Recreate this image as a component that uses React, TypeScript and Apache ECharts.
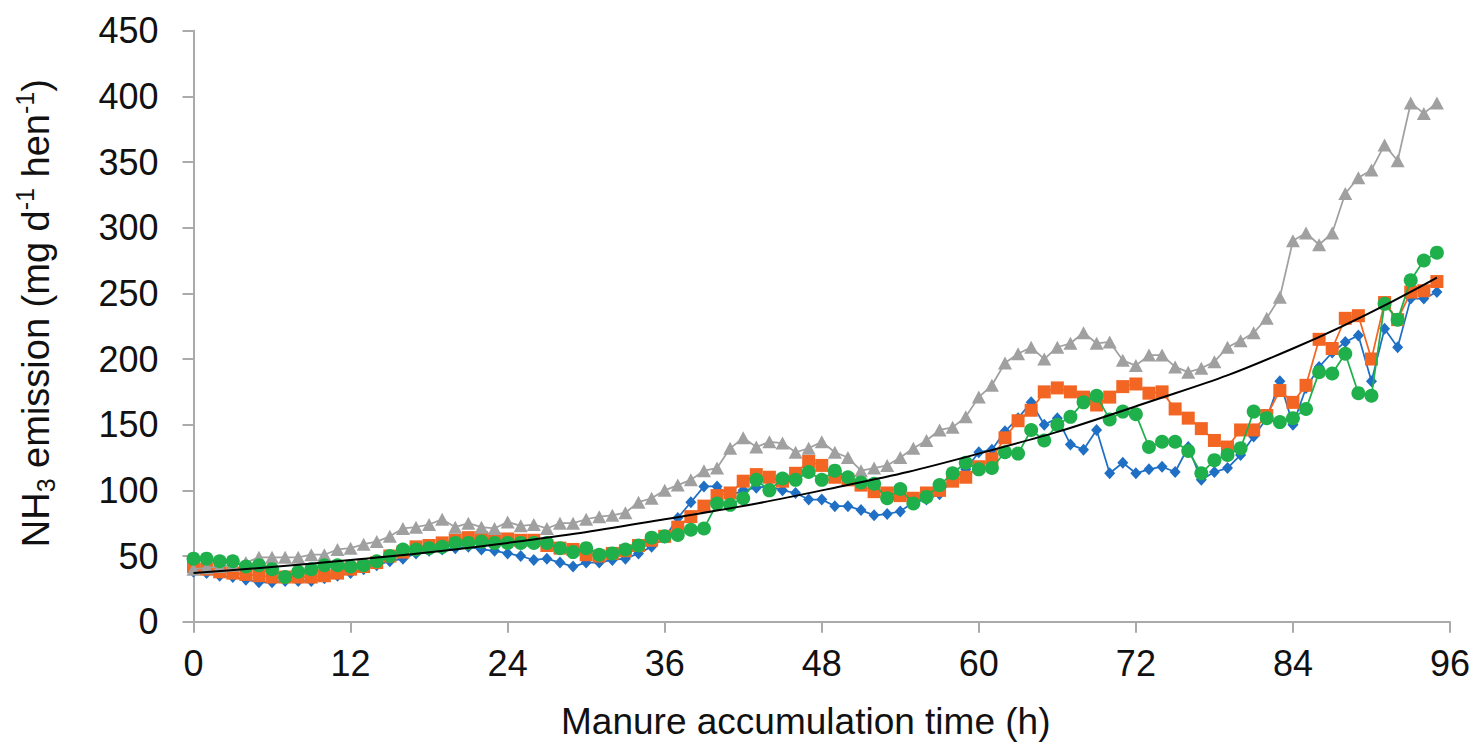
import React, { useEffect, useRef } from "react";
import * as echarts from "echarts";

// NH3 emission (mg d-1 hen-1), hourly samples 0..95 h
const BLUE = [38,37,35,34,32,30,30,31,31,31,33,35,37,
  40,43,46,48,52,54,55,56,57,55,54,52,50,
  47,48,45,42,45,45,47,48,52,57,64,79,91,
  103,103,96,100,102,103,100,98,93,93,88,88,85,
  81,82,84,91,93,97,108,116,129,131,145,155,167,
  150,155,135,131,146,113,121,113,116,118,114,133,108,
  114,117,127,141,155,183,150,178,194,205,213,218,183,223,209,246,246,251];

const ORANGE = [42,40,38,37,36,35,34,34,34,34,35,37,40,
  42,45,50,53,57,58,60,62,64,64,63,63,62,
  62,58,56,55,51,50,52,54,58,62,65,72,80,
  88,96,98,107,112,110,107,113,122,119,110,108,104,
  99,98,96,94,98,100,107,110,118,124,140,153,161,
  175,178,175,171,165,171,179,181,174,175,162,155,147,
  138,133,146,146,157,176,167,180,215,208,231,233,200,243,230,251,252,259];

const GRAY = [40,41,42,43,45,49,49,49,49,51,51,55,56,
  59,61,65,71,72,74,78,72,75,72,71,76,73,
  74,71,75,75,78,80,81,83,91,94,100,104,108,
  115,117,132,140,133,137,136,129,132,137,129,125,115,
  117,119,125,132,138,146,148,156,171,180,197,204,209,
  200,209,212,220,212,213,199,195,203,203,194,190,193,
  198,209,214,220,231,247,290,296,287,296,326,338,344,363,351,395,387,395];

const GREEN = [48,48,46,46,42,43,40,34,38,40,43,43,42,
  43,46,50,55,55,56,57,60,60,61,60,60,60,
  60,60,56,53,56,51,52,55,58,64,65,66,70,
  71,90,89,94,108,100,109,108,114,108,115,110,106,
  105,94,101,90,95,104,113,121,116,117,129,128,146,
  138,150,156,167,172,154,160,158,133,137,137,130,113,
  123,127,132,160,155,152,155,162,190,189,204,174,172,242,230,260,275,281];

// exponential trend line, read at these hours
const TREND_X = [0, 12, 24, 36, 48, 60, 72, 84, 95];
const TREND_Y = [37, 47, 60, 78, 100, 128, 164, 208, 262];

const X_TICKS = [0, 12, 24, 36, 48, 60, 72, 84, 96];
const Y_TICKS = [0, 50, 100, 150, 200, 250, 300, 350, 400, 450];

const FONT = "'Liberation Sans', Arial, sans-serif";

export default function App() {
  const ref = useRef<HTMLDivElement>(null);
  useEffect(() => {
    if (!ref.current) return;
    const chart = echarts.init(ref.current, undefined, { renderer: "svg" });
    const mk = (name: string, vals: number[], symbol: string, size: any, color: string, z: number) => ({
      type: "line",
      name,
      data: vals.map((v, i) => [i, v]),
      symbol,
      symbolSize: size,
      showSymbol: true,
      itemStyle: { color },
      lineStyle: { color, width: 1.75 },
      z,
      emphasis: { disabled: true },
    });
    const axisLine = { show: true, lineStyle: { color: "#aaaaaa", width: 2 } };
    const axisTick = { show: true, inside: false, length: 11, lineStyle: { color: "#aaaaaa", width: 2 } };
    chart.setOption({
      animation: false,
      backgroundColor: "#ffffff",
      grid: { left: 193.5, right: 26, top: 30.7, bottom: 122.3, containLabel: false, outerBoundsMode: "none" },
      xAxis: {
        type: "value",
        min: X_TICKS[0],
        max: X_TICKS[X_TICKS.length - 1],
        interval: 12,
        splitLine: { show: false },
        axisLine,
        axisTick,
        axisLabel: { color: "#111", fontSize: 36, fontFamily: FONT, margin: 24 },
        name: "Manure accumulation time (h)",
        nameLocation: "middle",
        nameGap: 81,
        nameTextStyle: { color: "#111", fontSize: 37, fontFamily: FONT, padding: [0, 32, 0, 0] },
      },
      yAxis: {
        type: "value",
        min: Y_TICKS[0],
        max: Y_TICKS[Y_TICKS.length - 1],
        interval: 50,
        splitLine: { show: false },
        axisLine,
        axisTick,
        axisLabel: { color: "#111", fontSize: 36, fontFamily: FONT, margin: 35 },
        name: "{n|NH}{sub|3}{n| emission (mg d}{sup|-1}{n| hen}{sup|-1}{n|)}",
        nameLocation: "middle",
        nameRotate: 90,
        nameGap: 135,
        nameTextStyle: {
          color: "#111",
          fontFamily: FONT,
          fontSize: 37,
          padding: [0, 0, 0, 26],
          rich: {
            n: { fontSize: 38, fontFamily: FONT, color: "#111", lineHeight: 46, verticalAlign: "middle" },
            sub: { fontSize: 25, fontFamily: FONT, color: "#111", lineHeight: 24, verticalAlign: "bottom" },
            sup: { fontSize: 25, fontFamily: FONT, color: "#111", lineHeight: 24, verticalAlign: "top" },
          },
        },
      },
      series: [
        mk("blue", BLUE, "diamond", [11, 12], "#1f6fc4", 2),
        mk("orange", ORANGE, "rect", 13, "#f26522", 3),
        mk("gray", GRAY, "triangle", [14, 13], "#a0a0a0", 4),
        mk("green", GREEN, "circle", 14, "#1fb04c", 5),
        {
          type: "line",
          name: "trend",
          data: TREND_X.map((x, i) => [x, TREND_Y[i]]),
          smooth: true,
          symbol: "none",
          lineStyle: { color: "#000000", width: 2 },
          z: 6,
          emphasis: { disabled: true },
        },
      ],
    });
    return () => chart.dispose();
  }, []);
  return (
    <div
      ref={ref}
      style={{ position: "fixed", left: 0, top: 0, width: 1476, height: 744, background: "#fff" }}
    />
  );
}
